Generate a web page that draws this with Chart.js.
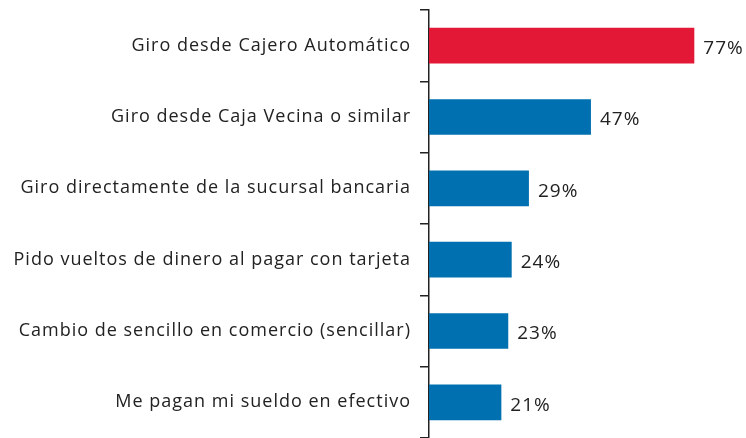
<!DOCTYPE html>
<html>
<head>
<meta charset="utf-8">
<script src="https://cdn.jsdelivr.net/npm/chart.js@4.4.0/dist/chart.umd.min.js"></script>
<style>
  html, body { margin: 0; padding: 0; background: #fff; }
  #wrap { width: 746px; height: 438px; }
</style>
</head>
<body>
<div id="wrap"><canvas id="chart-canvas"></canvas></div>
<script>
const categories = [
  "Giro desde Cajero Automático",
  "Giro desde Caja Vecina o similar",
  "Giro directamente de la sucursal bancaria",
  "Pido vueltos de dinero al pagar con tarjeta",
  "Cambio de sencillo en comercio (sencillar)",
  "Me pagan mi sueldo en efectivo",
];
const values = [77, 47, 29, 24, 23, 21];
const barColors = ["#E31837", "#0070B0", "#0070B0", "#0070B0", "#0070B0", "#0070B0"];

const FONT = "'Open Sans', sans-serif";

// wider letter spacing, like the original
const spacing = {
  id: "spacing",
  beforeDraw(chart) {
    chart.ctx.letterSpacing = "1px";
  },
};

// value labels at the end of each bar
const valueLabels = {
  id: "valueLabels",
  afterDatasetsDraw(chart) {
    const ctx = chart.ctx;
    const meta = chart.getDatasetMeta(0);
    ctx.save();
    ctx.letterSpacing = "1px";
    ctx.font = "19px " + FONT;
    ctx.fillStyle = "#222";
    ctx.textBaseline = "middle";
    ctx.textAlign = "left";
    meta.data.forEach((bar, i) => {
      ctx.fillText(values[i] + "%", bar.x + 9, bar.y + 3);
    });
    ctx.restore();
  },
};

const ctx = document.getElementById("chart-canvas").getContext("2d");
const myChart = new Chart(ctx, {
  type: "bar",
  data: {
    labels: categories,
    datasets: [
      {
        data: values,
        backgroundColor: barColors,
        categoryPercentage: 0.5,
        barPercentage: 1,
      },
    ],
  },
  options: {
    indexAxis: "y",
    responsive: true,
    maintainAspectRatio: false,
    animation: false,
    layout: { padding: { top: 10, right: 0, bottom: 0, left: 0 } },
    plugins: {
      legend: { display: false },
      tooltip: { enabled: false },
    },
    scales: {
      x: {
        display: false,
        min: 0,
        max: 92,
      },
      y: {
        afterFit(scale) {
          scale.width = 429;
          // let the axis run the full height
          scale.paddingTop = 0;
          scale.paddingBottom = 0;
        },
        border: { display: true, color: "#222", width: 1.5 },
        grid: {
          offset: true,
          drawOnChartArea: false,
          drawTicks: true,
          tickLength: 9,
          tickColor: "#222",
          lineWidth: 1.5,
        },
        ticks: {
          color: "#222",
          padding: 9,
          font: { family: FONT, size: 18 },
        },
      },
    },
  },
  plugins: [spacing, valueLabels],
});
</script>
</body>
</html>
